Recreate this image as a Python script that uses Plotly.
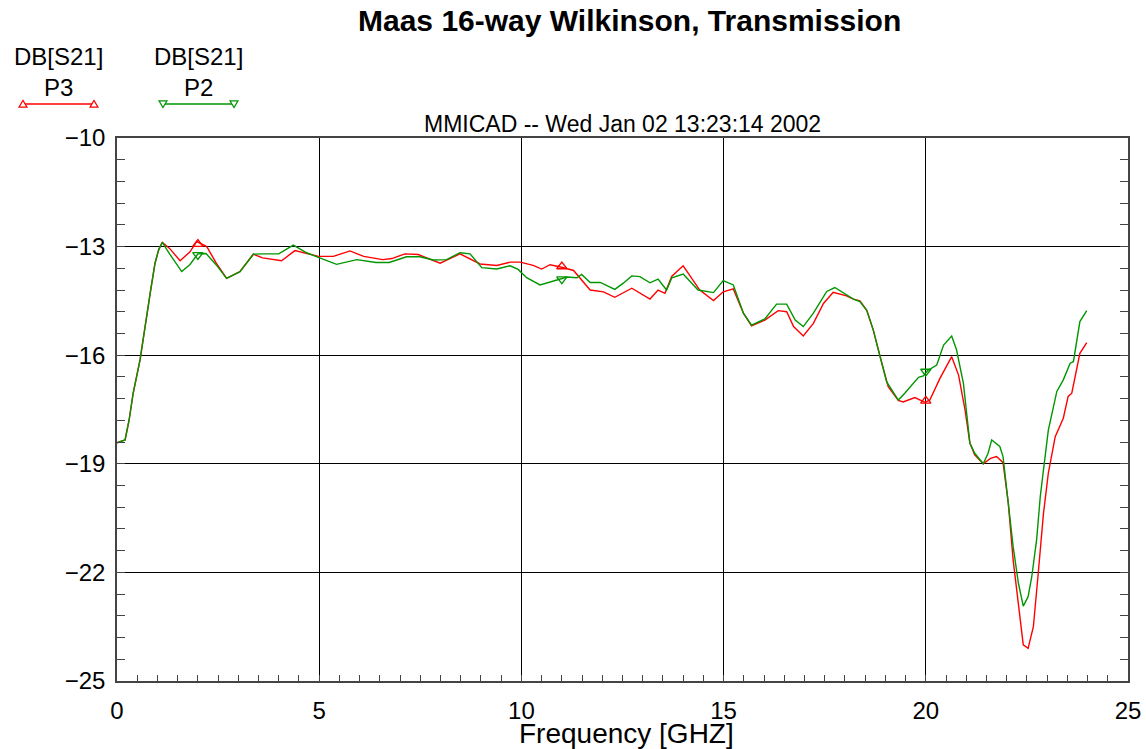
import plotly.graph_objects as go

# ---------------- data ----------------
p3_freq = [0.0, 0.2, 0.3, 0.4, 0.57, 0.69, 0.82, 0.94, 1.03, 1.12, 1.3, 1.56, 1.8, 1.97, 2.22, 2.45,
           2.71, 3.04, 3.37, 3.6, 4.07, 4.4, 4.69, 4.98, 5.35, 5.76, 6.1, 6.57, 6.8, 7.12, 7.45, 7.99,
           8.48, 8.98, 9.39, 9.72, 9.97, 10.29, 10.5, 10.71, 11.0, 11.29, 11.7, 12.03, 12.31, 12.73,
           13.18, 13.38, 13.55, 13.72, 14.0, 14.41, 14.75, 14.99, 15.24, 15.49, 15.69, 16.02, 16.35,
           16.56, 16.73, 16.97, 17.22, 17.47, 17.71, 18.04, 18.21, 18.37, 18.54, 18.7, 18.87, 19.07,
           19.32, 19.44, 19.73, 19.98, 20.1, 20.35, 20.64, 20.81, 20.97, 21.09, 21.21, 21.42, 21.6,
           21.75, 21.91, 22.04, 22.16, 22.29, 22.41, 22.53, 22.66, 22.78, 22.91, 23.03, 23.2, 23.4,
           23.52, 23.61, 23.81, 23.98]
p3_db = [-18.42, -18.34, -17.79, -17.05, -16.13, -15.21, -14.29, -13.46, -13.09, -12.88, -13.05, -13.39,
         -13.15, -12.86, -13.0, -13.45, -13.88, -13.69, -13.21, -13.31, -13.39, -13.11, -13.2, -13.27,
         -13.27, -13.12, -13.27, -13.36, -13.33, -13.2, -13.22, -13.46, -13.2, -13.48, -13.52, -13.43,
         -13.43, -13.52, -13.62, -13.5, -13.57, -13.66, -14.2, -14.25, -14.4, -14.15, -14.45, -14.2,
         -14.29, -13.82, -13.53, -14.2, -14.49, -14.25, -14.17, -14.84, -15.19, -15.03, -14.77, -14.8,
         -15.21, -15.47, -15.12, -14.57, -14.26, -14.36, -14.45, -14.5, -14.76, -15.3, -16.04, -16.87,
         -17.25, -17.29, -17.17, -17.3, -17.24, -16.64, -16.04, -16.55, -17.51, -18.43, -18.75, -19.0,
         -18.85, -18.8, -18.97, -20.09, -21.66, -22.95, -24.0, -24.1, -23.5, -22.03, -20.37, -19.26,
         -18.25, -17.74, -17.14, -17.05, -15.95, -15.65]

p2_freq = [0.0, 0.2, 0.3, 0.4, 0.57, 0.69, 0.82, 0.94, 1.03, 1.12, 1.3, 1.6, 1.8, 2.0, 2.2, 2.45, 2.71,
           3.04, 3.37, 3.6, 4.0, 4.36, 4.69, 4.98, 5.43, 5.93, 6.4, 6.73, 7.16, 7.49, 7.82, 8.15, 8.48,
           8.73, 9.02, 9.39, 9.72, 9.92, 10.13, 10.46, 10.79, 11.0, 11.13, 11.37, 11.49, 11.7, 11.95,
           12.31, 12.52, 12.73, 12.93, 13.18, 13.38, 13.59, 13.72, 14.0, 14.37, 14.75, 14.99, 15.24,
           15.49, 15.69, 16.02, 16.31, 16.56, 16.77, 16.97, 17.22, 17.55, 17.75, 18.04, 18.21, 18.37,
           18.54, 18.7, 18.87, 19.03, 19.32, 19.48, 19.82, 19.94, 20.04, 20.27, 20.44, 20.64, 20.76,
           20.93, 21.09, 21.21, 21.42, 21.54, 21.63, 21.83, 21.91, 22.04, 22.16, 22.29, 22.41, 22.53,
           22.62, 22.74, 22.83, 22.91, 23.03, 23.24, 23.4, 23.57, 23.65, 23.81, 23.98]
p2_db = [-18.42, -18.34, -17.79, -17.05, -16.13, -15.21, -14.29, -13.46, -13.09, -12.88, -13.2, -13.69,
         -13.5, -13.2, -13.19, -13.5, -13.88, -13.69, -13.21, -13.2, -13.2, -12.96, -13.17, -13.3, -13.49,
         -13.36, -13.44, -13.44, -13.28, -13.28, -13.37, -13.36, -13.17, -13.2, -13.58, -13.62, -13.53,
         -13.63, -13.86, -14.06, -13.95, -13.9, -13.84, -13.86, -13.77, -13.99, -13.99, -14.18, -14.01,
         -13.81, -13.83, -14.0, -13.9, -14.2, -13.86, -13.76, -14.2, -14.27, -13.94, -14.06, -14.84,
         -15.17, -15.0, -14.59, -14.59, -15.03, -15.21, -14.84, -14.24, -14.13, -14.33, -14.45, -14.52,
         -14.76, -15.3, -16.04, -16.73, -17.24, -17.05, -16.61, -16.57, -16.43, -16.27, -15.72, -15.47,
         -15.85, -16.78, -18.43, -18.71, -19.0, -18.71, -18.34, -18.52, -18.8, -20.18, -21.29, -22.3,
         -22.93, -22.67, -22.12, -21.1, -19.91, -19.17, -18.07, -17.0, -16.68, -16.22, -16.18, -15.07,
         -14.77]

marker_freq = [2.0, 11.0, 20.0]
p3_marker_db = [-12.93, -13.55, -17.26]
p2_marker_db = [-13.23, -13.9, -16.45]

x_ticks = [0, 5, 10, 15, 20, 25]
y_ticks = [-10, -13, -16, -19, -22, -25]

title_text = "Maas 16-way Wilkinson, Transmission"
subtitle_text = "MMICAD -- Wed Jan 02 13:23:14 2002"
x_title = "Frequency [GHZ]"
series_names = ["DB[S21]<br>P3", "DB[S21]<br>P2"]

# ---------------- styling / layout ----------------
W, H = 1146, 749
ML, MR, MT, MB = 0, 18, 0, 68
PW, PH = W - ML - MR, H - MT - MB   # pixel frame of paper
PLOT_L, PLOT_T = 117, 138

RED = "rgb(255,0,0)"
GREEN = "rgb(0,150,0)"
FONT = "Liberation Sans, Arial, sans-serif"


def px(x):
    return (x - ML) / PW


def py(y):
    return 1 - (y - MT) / PH


fig = go.Figure()

fig.add_trace(go.Scatter(x=p3_freq, y=p3_db, mode="lines", line=dict(color=RED, width=1.4),
                         showlegend=False, hoverinfo="skip"))
fig.add_trace(go.Scatter(x=p2_freq, y=p2_db, mode="lines", line=dict(color=GREEN, width=1.4),
                         showlegend=False, hoverinfo="skip"))
fig.add_trace(go.Scatter(x=marker_freq, y=p3_marker_db, mode="markers",
                         marker=dict(symbol="triangle-up-open", color=RED, size=9, line=dict(width=1.3)),
                         showlegend=False, hoverinfo="skip"))
fig.add_trace(go.Scatter(x=marker_freq, y=p2_marker_db, mode="markers",
                         marker=dict(symbol="triangle-down-open", color=GREEN, size=9, line=dict(width=1.3)),
                         showlegend=False, hoverinfo="skip"))

axis_common = dict(showgrid=True, gridcolor="black", gridwidth=1, zeroline=False,
                   showline=True, linecolor="#444", linewidth=1.5,
                   tickfont=dict(family=FONT, size=24, color="black"))

fig.update_layout(
    width=W, height=H,
    margin=dict(l=ML, r=MR, t=MT, b=MB, pad=0, autoexpand=False),
    paper_bgcolor="white", plot_bgcolor="white",
    showlegend=False,
    xaxis=dict(domain=[px(PLOT_L), 1], range=[0, 25], tickvals=x_ticks, ticks="inside",
               ticklen=6, tickcolor="#444", mirror=True, automargin=False,
               minor=dict(dtick=0.5, tick0=0, ticks="inside", ticklen=6, tickcolor="#444", showgrid=False),
               ticklabelstandoff=7, **axis_common),
    yaxis=dict(domain=[0, py(PLOT_T)], range=[-25, -10], tickvals=y_ticks, ticks="inside",
               ticklen=8, tickcolor="#444", mirror="ticks", automargin=False,
               minor=dict(dtick=0.6, tick0=-10, ticks="inside", ticklen=8, tickcolor="#444", showgrid=False),
               ticklabelstandoff=5, **axis_common),
)


# legend samples: line with open triangles at both ends (pixel -> paper)
def tri_path(cx, cy, up, s=4.0):
    if up:
        pts = [(cx - s, cy + s * 0.8), (cx + s, cy + s * 0.8), (cx, cy - s * 0.9)]
    else:
        pts = [(cx - s, cy - s * 0.8), (cx + s, cy - s * 0.8), (cx, cy + s * 0.9)]
    return "M " + " L ".join(f"{px(a):.5f},{py(b):.5f}" for a, b in pts) + " Z"


legend_items = [(23, 94, 104, RED, True), (163, 234, 104, GREEN, False)]
for x0, x1, yy, col, up in legend_items:
    fig.add_shape(type="line", xref="paper", yref="paper", x0=px(x0), x1=px(x1), y0=py(yy), y1=py(yy),
                  line=dict(color=col, width=1.3))
    for cx in (x0, x1):
        fig.add_shape(type="path", xref="paper", yref="paper", path=tri_path(cx, yy, up),
                      line=dict(color=col, width=1.2), fillcolor="white")

annotations = [
    dict(text="<b>" + title_text + "</b>", x=px(630), y=py(20), font=dict(family=FONT, size=30, color="black")),
    dict(text=subtitle_text, x=px(622), y=py(124), font=dict(family=FONT, size=23, color="black")),
    dict(text=x_title, x=px(626), y=py(733), font=dict(family=FONT, size=28, color="black")),
    dict(text=series_names[0], x=px(58), y=py(72), font=dict(family=FONT, size=24, color="black")),
    dict(text=series_names[1], x=px(198), y=py(72), font=dict(family=FONT, size=24, color="black")),
]
for a in annotations:
    fig.add_annotation(xref="paper", yref="paper", xanchor="center", yanchor="middle",
                       showarrow=False, **a)

# remove the browser's default body margin so the figure sits at the page origin
fig.write_html("out.html", config={"displayModeBar": False},
               post_script="document.body.style.margin='0px';document.body.style.overflow='hidden';")
